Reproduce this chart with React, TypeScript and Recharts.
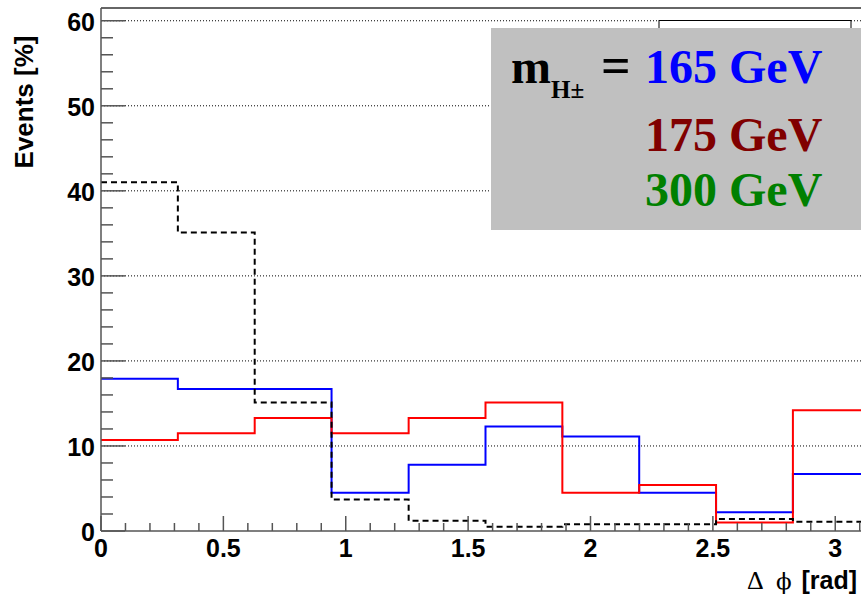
import { LineChart, Line, XAxis, YAxis, ReferenceLine } from "recharts"

// bin edges in delta phi (rad), 10 bins of pi/10
const binEdges = [0, 0.314, 0.628, 0.942, 1.257, 1.571, 1.885, 2.199, 2.513, 2.827, 3.142]

// events [%] per bin
const mH165 = [17.9, 16.7, 16.7, 4.5, 7.8, 12.3, 11.1, 4.5, 2.2, 6.7]
const mH175 = [10.7, 11.5, 13.3, 11.5, 13.3, 15.1, 4.5, 5.4, 1.0, 14.2]
const background = [41.0, 35.1, 15.1, 3.7, 1.2, 0.5, 0.8, 0.8, 1.4, 1.1]

const yMajor = [0, 10, 20, 30, 40, 50, 60]
const yMinor = [0, 2, 4, 6, 8, 10, 12, 14, 16, 18, 20, 22, 24, 26, 28, 30, 32, 34, 36, 38, 40, 42, 44, 46, 48, 50, 52, 54, 56, 58, 60]
const xMinor = Array.from({ length: 32 }, (_, i) => Math.round(i * 10) / 100)
const xMajorLabels = ["0", "0.5", "1", "1.5", "2", "2.5", "3"]

const Y_MAX = 61.5

const data = binEdges.map((x, i) => {
  const k = Math.min(i, mH165.length - 1)
  return { x, m165: mH165[k], m175: mH175[k], bg: background[k] }
})

const axisColor = "#555555"
const sans = "'Liberation Sans', Arial, Helvetica, sans-serif"
const serif = "'Liberation Serif', 'Times New Roman', serif"

function YTick(props: any) {
  const { x, y, payload } = props
  const v = payload.value
  const major = v % 10 === 0
  return (
    <g>
      <line x1={x} y1={y} x2={x + (major ? 24 : 12)} y2={y} stroke={axisColor} strokeWidth={1.5} />
      {major && (
        <text x={x - 6} y={y + 10} textAnchor="end" fontFamily={sans} fontWeight="bold" fontSize={25} fill="#000">
          {v}
        </text>
      )}
    </g>
  )
}

function XTick(props: any) {
  const { x, y, payload } = props
  const v = payload.value
  const idx = Math.round(v * 2)
  const major = Math.abs(v * 2 - idx) < 1e-6
  return (
    <g>
      <line x1={x} y1={y} x2={x} y2={y - (major ? 15 : 8)} stroke={axisColor} strokeWidth={1.5} />
      {major && (
        <text x={x} y={y + 26} textAnchor="middle" fontFamily={sans} fontWeight="bold" fontSize={25} fill="#000">
          {xMajorLabels[idx]}
        </text>
      )}
    </g>
  )
}

export default function App() {
  return (
    <div style={{ position: "absolute", left: 0, top: 0, width: 861, height: 598, overflow: "hidden", background: "#fff" }}>
      <LineChart width={880} height={598} data={data} margin={{ top: 8, right: 10, left: 0, bottom: 0 }}>
        {yMajor.slice(1).map((v) => (
          <ReferenceLine key={v} y={v} stroke="#000" strokeWidth={1} strokeDasharray="1 2" />
        ))}
        <ReferenceLine y={Y_MAX} stroke="#333" strokeWidth={1.5} />
        <XAxis
          type="number"
          dataKey="x"
          domain={[0, 3.142]}
          ticks={xMinor}
          interval={0}
          height={67}
          tickLine={false}
          tickSize={0}
          tickMargin={0}
          tick={<XTick />}
          axisLine={{ stroke: axisColor, strokeWidth: 1.5 }}
          allowDataOverflow
        />
        <YAxis
          type="number"
          domain={[0, Y_MAX]}
          ticks={yMinor}
          interval={0}
          width={101}
          tickLine={false}
          tickSize={0}
          tickMargin={0}
          tick={<YTick />}
          axisLine={{ stroke: axisColor, strokeWidth: 1.5 }}
          allowDataOverflow
        />
        <Line type="stepAfter" dataKey="m165" stroke="#0000ff" strokeWidth={2} dot={false} isAnimationActive={false} />
        <Line type="stepAfter" dataKey="m175" stroke="#ff0000" strokeWidth={2} dot={false} isAnimationActive={false} />
        <Line type="stepAfter" dataKey="bg" stroke="#000" strokeWidth={2} strokeDasharray="6 4" dot={false} isAnimationActive={false} />
      </LineChart>
      <svg width={861} height={598} style={{ position: "absolute", left: 0, top: 0, pointerEvents: "none" }}>
        <text transform="translate(33,102) rotate(-90)" textAnchor="middle" fontFamily={sans} fontWeight="bold" fontSize={26} fill="#000">
          Events [%]
        </text>
        <text x={747} y={589} fontFamily={serif} fontSize={26} fill="#000">Δ</text>
        <text x={776} y={589} fontFamily="'DejaVu Serif', serif" fontSize={23} fill="#000">ϕ</text>
        <text x={857} y={589} textAnchor="end" fontFamily={sans} fontWeight="bold" fontSize={25} fill="#000">[rad]</text>
        <rect x={659} y={20.5} width={192} height={40} fill="#fff" stroke="#000" strokeWidth={1} />
        <rect x={491} y={28} width={380} height={202} fill="#c0c0c0" />
        <g fontFamily={serif} fontWeight="bold">
          <text x={511} y={83} fontSize={48} fill="#000">m</text>
          <text x={551} y={98} fontSize={25} fill="#000">H±</text>
          <text x={601} y={83} fontSize={52} fill="#000">=</text>
          <text x={645} y={83} fontSize={48} fill="#0000ff">165 GeV</text>
          <text x={645} y={151} fontSize={48} fill="#800000">175 GeV</text>
          <text x={645} y={206} fontSize={48} fill="#008000">300 GeV</text>
        </g>
      </svg>
    </div>
  )
}
